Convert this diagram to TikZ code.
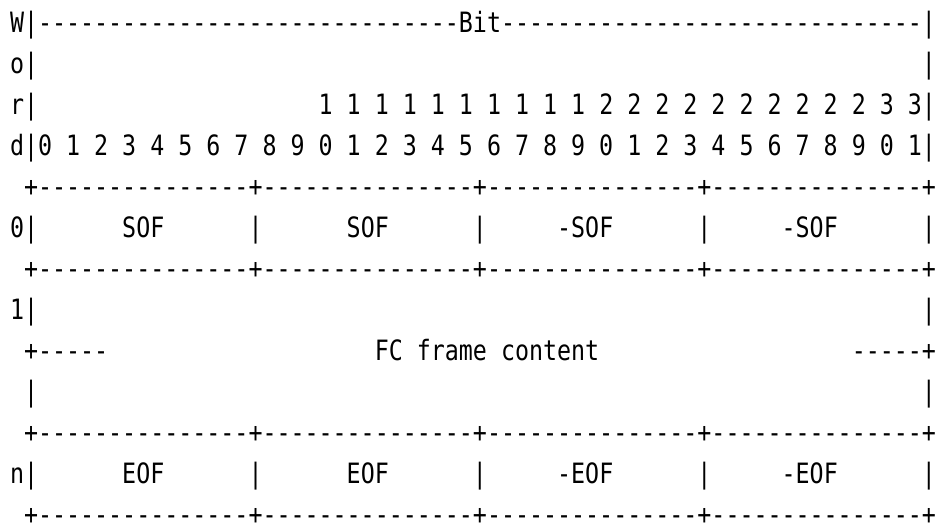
\documentclass[tikz,border=0pt]{standalone}
\usepackage{fontspec}
\setmonofont[FakeStretch=0.8323]{DejaVu Sans Mono}

\begin{document}
\begin{tikzpicture}[x=14.03pt, y=-41.0pt,
  every node/.style={anchor=base west, inner sep=0pt, outer sep=0pt,
    font=\ttfamily\fontsize{28pt}{28pt}\selectfont}]
  \path[use as bounding box, fill=white] (-10pt,32.5pt) rectangle (926pt,-494.5pt);
  % header: word column and bit numbers
  \node (hdr)  at (0,0)  {W|------------------------------Bit------------------------------|};
  \node (wo)   at (0,1)  {o|};
  \node (woe)  at (65,1) {|};
  \node (wr)   at (0,2)  {r|};
  \node (tens) at (22,2) {1 1 1 1 1 1 1 1 1 1 2 2 2 2 2 2 2 2 2 2 3 3|};
  \node (bits) at (0,3)  {d|0 1 2 3 4 5 6 7 8 9 0 1 2 3 4 5 6 7 8 9 0 1 2 3 4 5 6 7 8 9 0 1|};
  % horizontal rules
  \foreach \r in {4,6,10,12}
    \node (rule\r) at (1,\r) {+---------------+---------------+---------------+---------------+};
  % word 0: start of frame
  \foreach \c/\t in {0/0|, 8/SOF, 17/|, 24/SOF, 33/|, 39/-SOF, 49/|, 55/-SOF, 65/|}
    \node (sof\c) at (\c,5) {\t};
  % words 1..n-1: frame content
  \node (w1)   at (0,7)  {1|};
  \node (w1e)  at (65,7) {|};
  \node (fcl)  at (1,8)  {+-----};
  \node (fc)   at (26,8) {FC frame content};
  \node (fcr)  at (60,8) {-----+};
  \node (wxl)  at (1,9)  {|};
  \node (wxr)  at (65,9) {|};
  % word n: end of frame
  \foreach \c/\t in {0/n|, 8/EOF, 17/|, 24/EOF, 33/|, 39/-EOF, 49/|, 55/-EOF, 65/|}
    \node (eof\c) at (\c,11) {\t};
\end{tikzpicture}
\end{document}
